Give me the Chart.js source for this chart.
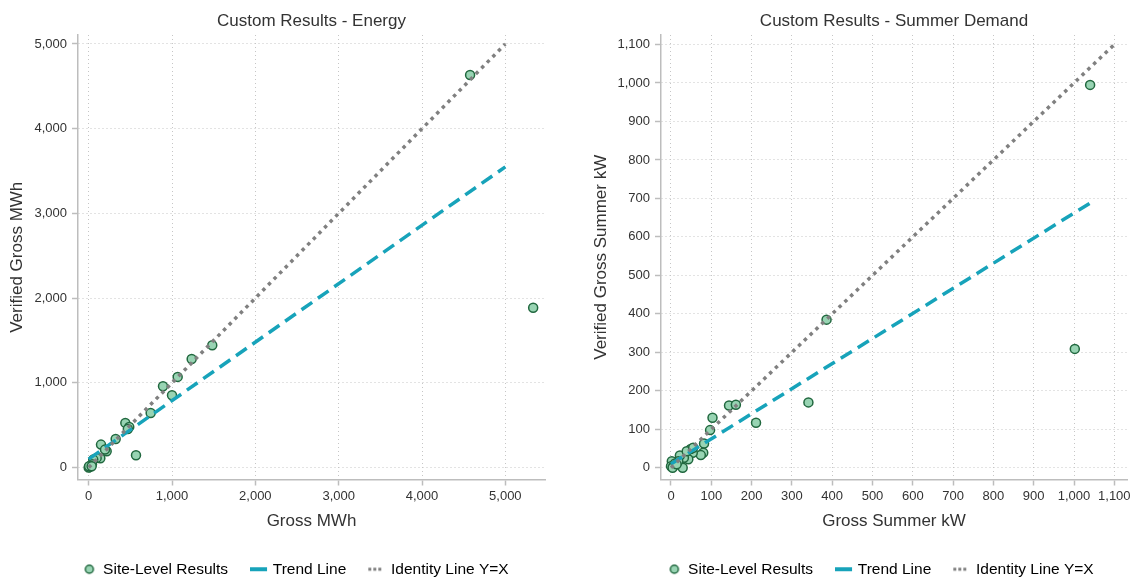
<!DOCTYPE html>
<html>
<head>
<meta charset="utf-8">
<title>Custom Results</title>
<script src="https://cdn.jsdelivr.net/npm/chart.js@4.4.1/dist/chart.umd.min.js"></script>
<style>
  html, body { margin: 0; padding: 0; background: #fff; }
  #wrap { position: relative; width: 1137px; height: 581px; }
  canvas { position: absolute; top: 0; }
  #energyChart { left: 0; }
  #summerChart { left: 568px; }
</style>
</head>
<body>
<div id="wrap">
  <canvas id="energyChart" width="568" height="581"></canvas>
  <canvas id="summerChart" width="569" height="581"></canvas>
</div>
<script>
// values
var energyGross    = [4577, 5334, 1483, 1236, 1068, 892, 1000, 744, 440, 487, 470, 324, 148, 216, 196, 568, 140, 96, 55, 40, 20, 10, 0, 5, 36];
var energyVerified = [4634, 1887, 1443, 1281, 1070, 959, 853, 645, 527, 480, 455, 338, 271, 192, 212, 145, 110, 114, 94, 40, 20, 5, 0, 15, 15];
var energyTrendX = [0, 5000];
var energyTrendY = [100, 3550];
var energyIdentity = [0, 5000];
var energyTicks = [0, 1000, 2000, 3000, 4000, 5000];

var summerGross    = [1040, 1002, 386, 341, 211, 144, 161, 103, 97, 82, 80, 74, 54, 49, 43, 29, 32, 22, 18, 2, 0, 6, 10, 4, 39, 55, 14];
var summerVerified = [995, 309, 385, 170, 117, 162, 164, 130, 98, 63, 39, 33, 39, 49, 22, 0, 26, 32, 17, 17, 4, 4, 11, 0, 43, 52, 9];
var summerTrendX = [0, 1040];
var summerTrendY = [10, 688];
var summerIdentity = [0, 1100];
var summerTicks = [0, 100, 200, 300, 400, 500, 600, 700, 800, 900, 1000, 1100];

var seriesLabels = ['Site-Level Results', 'Trend Line', 'Identity Line Y=X'];

var INK = '#333333';
var AXIS = '#bdbdbd';
var POINT_FILL = '#98d4b3';
var POINT_EDGE = '#21683f';
var TEAL = '#17a3ba';
var GREY = '#808080';

Chart.defaults.font.family = '"Liberation Sans", Arial, Helvetica, sans-serif';
Chart.defaults.color = INK;

function xy(xs, ys) {
  return xs.map(function(x, i) { return { x: x, y: ys[i] }; });
}

// small canvases used as legend markers
function icon(w, h, draw) {
  var c = document.createElement('canvas');
  c.width = w; c.height = h;
  draw(c.getContext('2d'));
  return c;
}
var legendIcons = [
  icon(14, 12, function(g) {
    g.beginPath(); g.arc(7, 6, 4, 0, Math.PI * 2);
    g.fillStyle = POINT_FILL; g.fill();
    g.lineWidth = 1.5; g.strokeStyle = POINT_EDGE; g.stroke();
  }),
  icon(18, 8, function(g) {
    g.fillStyle = TEAL; g.fillRect(0, 2, 17, 4);
  }),
  icon(20, 8, function(g) {
    g.fillStyle = GREY;
    [1, 6, 11].forEach(function(x) { g.fillRect(x, 2.5, 3, 3); });
  })
];

// title centred over the plot region, legend nudged the way the source has it
var plotTitle = {
  id: 'plotTitle',
  afterLayout: function(chart, args, opts) {
    if (chart.legend) chart.legend.left = opts.legendLeft;
  },
  afterDraw: function(chart, args, opts) {
    var ca = chart.chartArea, ctx = chart.ctx;
    ctx.save();
    ctx.font = '17px ' + Chart.defaults.font.family;
    ctx.fillStyle = INK;
    ctx.textAlign = 'center';
    ctx.textBaseline = 'middle';
    ctx.fillText(opts.text, (ca.left + ca.right) / 2, 21);
    ctx.restore();
  }
};

function axis(o) {
  return {
    type: 'linear',
    min: o.min,
    max: o.max,
    afterBuildTicks: function(s) {
      s.ticks = o.ticks.map(function(v) { return { value: v }; });
    },
    afterFit: function(s) {
      if (o.horizontal) s.height = o.size; else s.width = o.size;
    },
    grid: { color: '#c6c6c6', lineWidth: 1, tickColor: AXIS, tickLength: 6, tickWidth: 1.5 },
    border: { color: AXIS, width: 1.5, dash: [1, 3] },
    ticks: {
      color: INK, font: { size: 13 }, padding: o.horizontal ? 3 : 5,
      maxRotation: 0, autoSkip: false,
      callback: function(v) { return v.toLocaleString('en-US'); }
    },
    title: { display: true, text: o.title, color: INK, font: { size: 17 }, padding: o.titlePad }
  };
}

function makeChart(id, d) {
  var ctx = document.getElementById(id);
  return new Chart(ctx, {
    type: 'scatter',
    data: {
      datasets: [{
        label: seriesLabels[0],
        data: xy(d.gross, d.verified),
        backgroundColor: POINT_FILL,
        borderColor: POINT_EDGE,
        borderWidth: 1.5,
        pointRadius: 4.5,
        pointHoverRadius: 4.5,
        order: 3
      }, {
        label: seriesLabels[1],
        data: xy(d.trendX, d.trendY),
        showLine: true,
        borderColor: TEAL,
        borderWidth: 3.5,
        borderDash: [13, 7],
        pointRadius: 0,
        order: 2
      }, {
        label: seriesLabels[2],
        data: xy(d.identity, d.identity),
        showLine: true,
        borderColor: GREY,
        borderWidth: 3.5,
        borderDash: [3.5, 4.5],
        pointRadius: 0,
        order: 1
      }]
    },
    options: {
      responsive: false,
      animation: false,
      layout: { padding: d.padding },
      scales: {
        x: axis({ min: d.xMin, max: d.xMax, ticks: d.ticks, title: d.xTitle, horizontal: true, size: 57, titlePad: { top: 0, bottom: 5 } }),
        y: axis({ min: d.yMin, max: d.yMax, ticks: d.ticks, title: d.yTitle, horizontal: false, size: d.yWidth, titlePad: { top: d.yTitlePad, bottom: 0 } })
      },
      plugins: {
        plotTitle: { text: d.title, legendLeft: d.legendLeft },
        tooltip: { enabled: false },
        legend: {
          position: 'bottom',
          labels: {
            usePointStyle: true,
            boxWidth: 12,
            boxHeight: 12,
            padding: 25,
            color: INK,
            font: { size: 15.5 },
            generateLabels: function(chart) {
              return chart.data.datasets.map(function(ds, i) {
                return {
                  text: ds.label, pointStyle: legendIcons[i], datasetIndex: i,
                  fillStyle: POINT_FILL, strokeStyle: POINT_EDGE, lineWidth: 0, hidden: false
                };
              });
            }
          }
        }
      }
    },
    plugins: [plotTitle]
  });
}

makeChart('energyChart', {
  title: 'Custom Results - Energy',
  xTitle: 'Gross MWh',
  yTitle: 'Verified Gross MWh',
  gross: energyGross, verified: energyVerified,
  trendX: energyTrendX, trendY: energyTrendY, identity: energyIdentity,
  ticks: energyTicks,
  xMin: -128, xMax: 5476, yMin: -141, yMax: 5106,
  padding: { left: 0, right: 23, top: 35, bottom: -6 },
  yWidth: 78, yTitlePad: 7, legendLeft: 47
});

makeChart('summerChart', {
  title: 'Custom Results - Summer Demand',
  xTitle: 'Gross Summer kW',
  yTitle: 'Verified Gross Summer kW',
  gross: summerGross, verified: summerVerified,
  trendX: summerTrendX, trendY: summerTrendY, identity: summerIdentity,
  ticks: summerTicks,
  xMin: -24.8, xMax: 1131.5, yMin: -30.4, yMax: 1124.7,
  padding: { left: 0, right: 10, top: 35, bottom: -6 },
  yWidth: 93, yTitlePad: 23, legendLeft: 67
});
</script>
</body>
</html>
